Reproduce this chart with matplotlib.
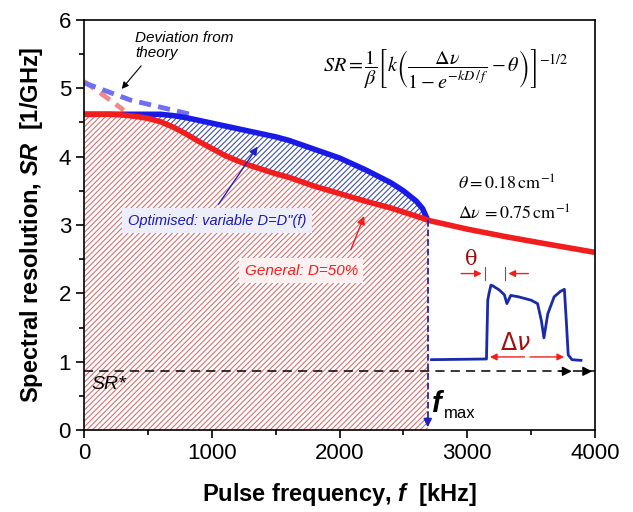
import matplotlib.pyplot as plt

plt.rcParams['font.family'] = ['Liberation Sans', 'DejaVu Sans']
plt.rcParams['mathtext.fontset'] = 'custom'
plt.rcParams['mathtext.rm'] = 'Liberation Sans'
plt.rcParams['mathtext.it'] = 'Liberation Sans:italic'
plt.rcParams['mathtext.bf'] = 'Liberation Sans:bold'
plt.rcParams['mathtext.bfit'] = 'Liberation Sans:italic:bold'
plt.rcParams['hatch.linewidth'] = 0.8

# Pulse frequency grid [kHz]
f_gen = [0, 200, 300, 400, 500, 600, 700, 800, 900, 1000, 1100, 1200, 1300,
         1400, 1500, 1600, 1800, 2000, 2200, 2400, 2500, 2600, 2650, 2690,
         3000, 3300, 3600, 4000]
# General case D=50%
sr_gen = [4.62, 4.62, 4.61, 4.59, 4.56, 4.51, 4.43, 4.33, 4.22, 4.12, 4.02,
          3.94, 3.87, 3.81, 3.75, 3.70, 3.57, 3.46, 3.35, 3.25, 3.19, 3.13,
          3.10, 3.07, 2.94, 2.83, 2.73, 2.60]
# Optimised case, ends at f_max
sr_opt = [4.62, 4.62, 4.62, 4.62, 4.62, 4.62, 4.60, 4.57, 4.53, 4.49, 4.45,
          4.41, 4.37, 4.33, 4.29, 4.24, 4.11, 3.98, 3.81, 3.62, 3.50, 3.35,
          3.24, 3.07]
f_max = 2690

# deviation from theory (dashed)
f_dev_gen = [0, 150, 310]
sr_dev_gen = [5.10, 4.90, 4.68]
f_dev_opt = [0, 360, 830]
sr_dev_opt = [5.08, 4.83, 4.62]

sr_star = 0.86

# inset spectrum drawn in data coordinates
spec_x = [2720, 3150, 3160, 3170, 3185, 3200, 3250, 3290, 3310, 3340, 3400,
          3500, 3550, 3580, 3600, 3630, 3680, 3730, 3760, 3775, 3790, 3820, 3890]
spec_y = [1.03, 1.04, 1.90, 2.00, 2.12, 2.11, 2.05, 1.98, 1.85, 1.97, 1.95,
          1.90, 1.85, 1.60, 1.35, 1.70, 1.95, 2.03, 2.06, 1.60, 1.10, 1.03, 1.02]

red = '#f21d1d'
blue = '#1a1ae6'

fig = plt.figure(figsize=(6.33, 5.12), dpi=100)
ax = fig.add_axes([0.133, 0.160, 0.807, 0.801])

n = len(sr_opt)
# hatched areas
ax.fill_between(f_gen[:n], 0, sr_gen[:n], facecolor='none', edgecolor='#d87070',
                hatch='//////', linewidth=0)
ax.fill_between(f_gen[:n], sr_gen[:n], sr_opt, facecolor='none', edgecolor='#4050a8',
                hatch='//////', linewidth=0)

ax.plot(f_dev_gen, sr_dev_gen, '--', color='#f08a8a', lw=3.5, dashes=(2.5, 1.5))
ax.plot(f_dev_opt, sr_dev_opt, '--', color='#6f6ff0', lw=3.5, dashes=(2.5, 1.5))

ax.plot(f_gen[:n], sr_opt, color=blue, lw=4, solid_capstyle='butt')
ax.plot(f_gen, sr_gen, color=red, lw=4, solid_capstyle='butt')

# f_max vertical line
ax.plot([f_max, f_max], [sr_gen[n - 1], 0.12], '--', color='#2020c0', lw=1.3)
ax.annotate('', xy=(f_max, 0.0), xytext=(f_max, 0.2),
            arrowprops=dict(arrowstyle='-|>', color='#2020c0', lw=1.3,
                            mutation_scale=12))
ax.text(f_max + 25, 0.26, r'$\mathbfit{f}$', fontsize=21, ha='left', va='baseline')
ax.text(f_max + 125, 0.17, 'max', fontsize=12, ha='left', va='baseline')

# SR* line
ax.plot([0, 4000], [sr_star, sr_star], '--', color='black', lw=1.1, dashes=(6, 4))
ax.annotate('', xy=(3840, sr_star), xytext=(3700, sr_star),
            arrowprops=dict(arrowstyle='-|>', color='black', lw=1, mutation_scale=14))
ax.annotate('', xy=(4000, sr_star), xytext=(3900, sr_star), annotation_clip=False,
            arrowprops=dict(arrowstyle='-|>', color='black', lw=1, mutation_scale=14))
ax.text(60, 0.66, 'SR*', fontsize=14, style='italic', ha='left', va='center')

# inset spectrum
ax.plot(spec_x, spec_y, color='#1a2aa8', lw=2)
ax.annotate('', xy=(3155, 1.07), xytext=(3470, 1.07),
            arrowprops=dict(arrowstyle='-|>', color=red, lw=1, mutation_scale=10))
ax.annotate('', xy=(3780, 1.07), xytext=(3470, 1.07),
            arrowprops=dict(arrowstyle='-|>', color=red, lw=1, mutation_scale=10))
ax.text(3380, 1.1, r'$\Delta\nu$', color='#a01010', fontsize=17, ha='center', va='bottom',
        math_fontfamily='dejavusans')
ax.annotate('', xy=(3135, 2.29), xytext=(2930, 2.29),
            arrowprops=dict(arrowstyle='-|>', color=red, lw=1, mutation_scale=10))
ax.annotate('', xy=(3300, 2.29), xytext=(3500, 2.29),
            arrowprops=dict(arrowstyle='-|>', color=red, lw=1, mutation_scale=10))
ax.plot([3140, 3140], [2.20, 2.38], color='#a04040', lw=0.8)
ax.plot([3295, 3295], [2.20, 2.38], color='#a04040', lw=0.8)
ax.text(3030, 2.36, r'$\mathrm{\theta}$', color='#a01010', fontsize=15, ha='center',
        va='bottom', math_fontfamily='dejavuserif')

# equation and parameters
ax.text(2830, 5.28,
        r'$SR=\dfrac{1}{\beta}\left[k\left(\dfrac{\Delta\nu}{1-e^{-kD\,/\,f}}-\theta\right)\right]^{-1/2}$',
        fontsize=14.5, ha='center', va='center', math_fontfamily='stix')
ax.text(2930, 3.59, r'$\theta = 0.18\,\mathrm{cm}^{-1}$', fontsize=13, ha='left',
        va='center', math_fontfamily='stix')
ax.text(2930, 3.16, r'$\Delta\nu\, = 0.75\,\mathrm{cm}^{-1}$', fontsize=13, ha='left',
        va='center', math_fontfamily='stix')

# annotations
ax.text(400, 5.62, 'Deviation from\ntheory', fontsize=11, style='italic',
        ha='left', va='center', linespacing=1.1)
ax.annotate('', xy=(280, 4.96), xytext=(460, 5.36),
            arrowprops=dict(arrowstyle='-|>', color='black', lw=0.8, mutation_scale=10))

ax.annotate('', xy=(1370, 4.18), xytext=(1040, 3.27),
            arrowprops=dict(arrowstyle='-|>', color='#2020c0', lw=1, mutation_scale=12))
ax.text(1040, 3.06, 'Optimised: variable D=D"(f)', fontsize=10.5, style='italic',
        color='#1a1ab0', ha='center', va='center',
        bbox=dict(facecolor='#eeeefa', edgecolor='none', pad=4))
ax.annotate('', xy=(2200, 3.17), xytext=(2080, 2.60),
            arrowprops=dict(arrowstyle='-|>', color=red, lw=1, mutation_scale=12))
ax.text(1700, 2.33, 'General: D=50%', fontsize=11, style='italic', color=red,
        ha='center', va='center',
        bbox=dict(facecolor='#fcf0f0', edgecolor='none', pad=4))

ax.set_xlim(0, 4000)
ax.set_ylim(0, 6)
ax.set_xticks([0, 1000, 2000, 3000, 4000])
ax.set_xticks([500, 1500, 2500, 3500], minor=True)
ax.set_yticks(range(7))
ax.set_yticks([0.5, 1.5, 2.5, 3.5, 4.5, 5.5], minor=True)
ax.tick_params(which='major', length=6, width=1.2, labelsize=16, direction='out')
ax.tick_params(which='minor', length=3.5, width=1.2, direction='out')
for s in ax.spines.values():
    s.set_linewidth(1.2)

ax.set_xlabel(r'Pulse frequency, $\mathbfit{f}$  [kHz]', fontsize=17, fontweight='bold', labelpad=12)
ax.set_ylabel(r'Spectral resolution, $\mathbfit{SR}$  [1/GHz]', fontsize=17, fontweight='bold', labelpad=10)

fig.savefig('out.png', dpi=100)
